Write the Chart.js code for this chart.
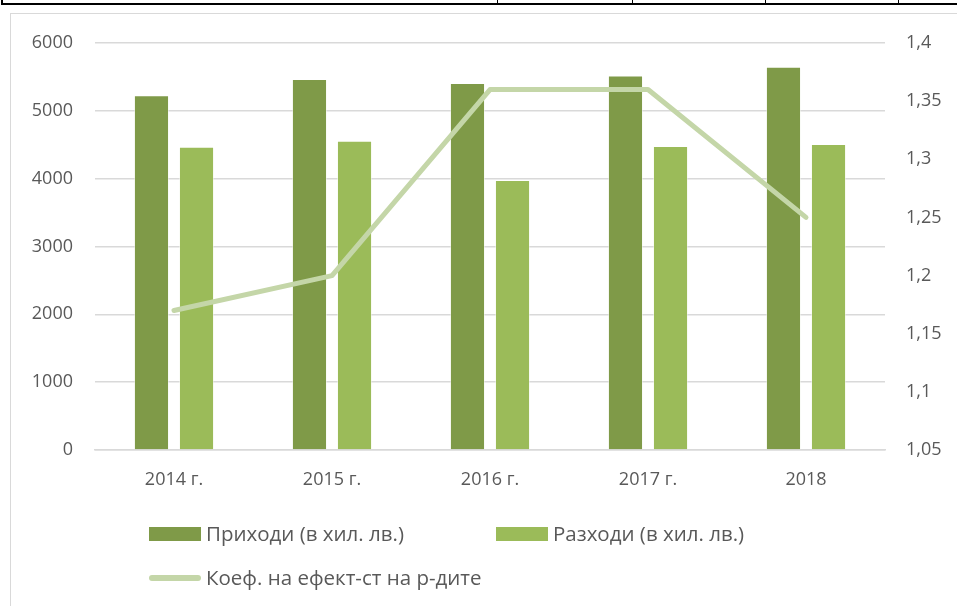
<!DOCTYPE html>
<html>
<head>
<meta charset="utf-8">
<script src="https://cdn.jsdelivr.net/npm/chart.js@4/dist/chart.umd.min.js"></script>
<style>
  html, body { margin: 0; padding: 0; background: #fff; }
  #wrap { position: relative; width: 957px; height: 606px; overflow: hidden; font-family: "Open Sans", sans-serif; color: #595959; }
  #chart { position: absolute; left: 0; top: 0; }
  .tbl { position: absolute; top: 0; height: 3px; border-bottom: 2px solid #000; }
  .sep { position: absolute; top: 0; width: 1px; height: 4px; background: #000; }
  #frame { position: absolute; left: 10px; top: 13px; width: 960px; height: 600px; border-left: 1.5px solid #d9d9d9; border-top: 1.5px solid #d9d9d9; }
  .lg { position: absolute; font-size: 20.5px; line-height: 20px; white-space: nowrap; }
  .sw { position: absolute; }
</style>
</head>
<body>
<div id="wrap">
  <div class="tbl" style="left:1px;width:960px;border-left:2px solid #000;"></div>
  <div class="sep" style="left:497px"></div>
  <div class="sep" style="left:632px"></div>
  <div class="sep" style="left:765px"></div>
  <div class="sep" style="left:898px"></div>
  <div id="frame"></div>
  <canvas id="chart" width="957" height="606"></canvas>
  <div id="legend"></div>
</div>
<script>
// data
const years = ['2014 г.', '2015 г.', '2016 г.', '2017 г.', '2018'];
const incomes = [5230, 5470, 5410, 5520, 5650];   // Приходи (в хил. лв.)
const expenses = [4470, 4560, 3980, 4480, 4510];  // Разходи (в хил. лв.)
const ratio = [1.17, 1.2, 1.36, 1.36, 1.25];      // Коеф. на ефект-ст на р-дите
const leftTicks = [0, 1000, 2000, 3000, 4000, 5000, 6000];
const rightTicks = [1.05, 1.1, 1.15, 1.2, 1.25, 1.3, 1.35, 1.4];

const names = ['Приходи (в хил. лв.)', 'Разходи (в хил. лв.)', 'Коеф. на ефект-ст на р-дите'];
const colors = ['#7f9a48', '#9bbb59', '#c4d6a8'];
const textColor = '#595959';
const gridColor = '#d9d9d9';

const tickFont = { family: 'Open Sans', size: 18 };

const ctx = document.getElementById('chart').getContext('2d');
const chart = new Chart(ctx, {
  type: 'bar',
  data: {
    labels: years,
    datasets: [
      {
        type: 'line',
        label: names[2],
        data: ratio,
        yAxisID: 'y1',
        borderColor: colors[2],
        backgroundColor: colors[2],
        borderWidth: 5,
        pointRadius: 0,
        tension: 0,
        borderCapStyle: 'round',
        borderJoinStyle: 'round',
        order: 0
      },
      {
        label: names[0],
        data: incomes,
        yAxisID: 'y',
        backgroundColor: colors[0],
        borderColor: 'rgba(255,255,255,0.5)',
        borderWidth: 1,
        categoryPercentage: 0.57,
        barPercentage: 0.78,
        order: 1
      },
      {
        label: names[1],
        data: expenses,
        yAxisID: 'y',
        backgroundColor: colors[1],
        borderColor: 'rgba(255,255,255,0.5)',
        borderWidth: 1,
        categoryPercentage: 0.57,
        barPercentage: 0.78,
        order: 2
      }
    ]
  },
  options: {
    responsive: false,
    animation: false,
    layout: { padding: { top: 43, left: 0, right: 0, bottom: 0 } },
    plugins: {
      legend: { display: false },
      tooltip: { enabled: false }
    },
    scales: {
      x: {
        offset: true,
        grid: { display: false, drawTicks: false },
        border: { display: true, color: gridColor, width: 1.5 },
        ticks: { color: textColor, font: tickFont, padding: 19, maxRotation: 0 },
        afterFit: function(scale) { scale.height = 156; }
      },
      y: {
        position: 'left',
        min: leftTicks[0],
        max: leftTicks[leftTicks.length - 1],
        afterBuildTicks: function(scale) { scale.ticks = leftTicks.map(v => ({ value: v })); },
        grid: { color: gridColor, lineWidth: 1.5, drawTicks: false },
        border: { display: false },
        ticks: {
          color: textColor,
          font: tickFont,
          padding: 22,
          callback: function(v) { return String(v); }
        },
        afterFit: function(scale) { scale.width = 95; }
      },
      y1: {
        position: 'right',
        min: rightTicks[0],
        max: rightTicks[rightTicks.length - 1],
        afterBuildTicks: function(scale) { scale.ticks = rightTicks.map(v => ({ value: v })); },
        grid: { display: false, drawTicks: false },
        border: { display: false },
        ticks: {
          color: textColor,
          font: tickFont,
          padding: 21,
          callback: function(v) { return String(Math.round(v * 100) / 100).replace('.', ','); }
        },
        afterFit: function(scale) { scale.width = 72; }
      }
    }
  }
});

// legend laid out like the spreadsheet one
const legendItems = [
  { name: names[0], color: colors[0], kind: 'box', x: 149, y: 534 },
  { name: names[1], color: colors[1], kind: 'box', x: 496, y: 534 },
  { name: names[2], color: colors[2], kind: 'line', x: 149, y: 578 }
];
const legend = document.getElementById('legend');
legendItems.forEach(function(it) {
  const sw = document.createElement('div');
  sw.className = 'sw';
  sw.style.left = it.x + 'px';
  sw.style.width = '52px';
  sw.style.background = it.color;
  if (it.kind === 'box') {
    sw.style.top = (it.y - 7) + 'px';
    sw.style.height = '14px';
  } else {
    sw.style.top = (it.y - 3) + 'px';
    sw.style.height = '6px';
    sw.style.borderRadius = '3px';
  }
  legend.appendChild(sw);
  const t = document.createElement('div');
  t.className = 'lg';
  t.textContent = it.name;
  t.style.left = (it.x + 57) + 'px';
  t.style.top = (it.y - 11) + 'px';
  legend.appendChild(t);
});
</script>
</body>
</html>
